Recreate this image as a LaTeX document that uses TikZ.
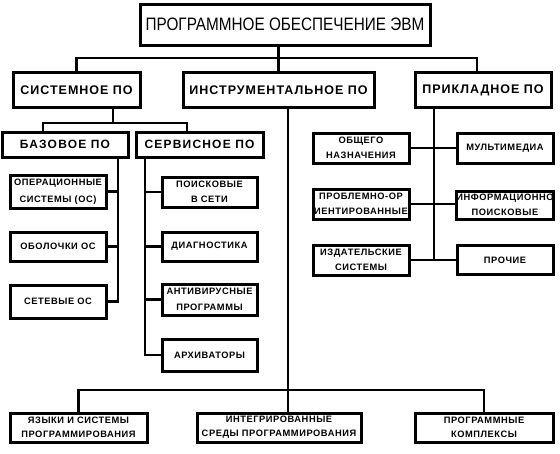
\documentclass[tikz,border=0pt]{standalone}
\usepackage{fontspec}
\setmainfont{Liberation Sans}
\newfontfamily\titlef[FakeStretch=0.85]{Liberation Sans}
\newfontfamily\bigf[LetterSpace=8]{Liberation Sans}
\newfontfamily\midf[LetterSpace=10]{Liberation Sans}
\newfontfamily\smallf[LetterSpace=6]{Liberation Sans}
\tikzset{
  box/.style={draw, line width=3pt, inner sep=0pt, align=center},
  titlebox/.style={box, font=\titlef\fontsize{18}{20}\selectfont},
  lvbox/.style={box, font=\bigf\bfseries\fontsize{12.5}{14}\selectfont},
  l3box/.style={box, font=\midf\bfseries\fontsize{12}{14}\selectfont},
  smbox/.style={box, font=\smallf\bfseries\fontsize{9.3}{15.5}\selectfont},
  lowbox/.style={box, font=\smallf\bfseries\fontsize{9.3}{14}\selectfont},
  conn/.style={line width=2.6pt}
}
\begin{document}
\begin{tikzpicture}[x=1pt, y=-1pt]
\useasboundingbox (0,0) rectangle (560,453);
% title
\node[titlebox, minimum width=290pt, minimum height=41pt] (top) at (285,24.5) {ПРОГРАММНОЕ ОБЕСПЕЧЕНИЕ ЭВМ};
% level 2
\node[lvbox, minimum width=127pt, minimum height=35pt] (sys) at (76.5,90) {СИСТЕМНОЕ ПО};
\node[lvbox, minimum width=191pt, minimum height=35pt] (ins) at (278.5,90) {ИНСТРУМЕНТАЛЬНОЕ ПО};
\node[lvbox, minimum width=136pt, minimum height=35pt] (pri) at (483,90) {ПРИКЛАДНОЕ ПО};
% level 3
\node[l3box, minimum width=126pt, minimum height=25pt] (baz) at (65,144.5) {БАЗОВОЕ ПО};
\node[l3box, minimum width=127pt, minimum height=25pt] (ser) at (199.5,144.5) {СЕРВИСНОЕ ПО};
% base software
\node[smbox, minimum width=96pt, minimum height=33pt] (os) at (58,191.5) {ОПЕРАЦИОННЫЕ\\[2pt]СИСТЕМЫ (ОС)};
\node[smbox, minimum width=96pt, minimum height=29pt] (obo) at (58,246.5) {ОБОЛОЧКИ ОС};
\node[smbox, minimum width=96pt, minimum height=33pt] (set) at (58,301.5) {СЕТЕВЫЕ ОС};
% service software
\node[smbox, minimum width=95pt, minimum height=30pt] (poi) at (209.5,192) {ПОИСКОВЫЕ\\В СЕТИ};
\node[smbox, minimum width=95pt, minimum height=29pt] (dia) at (209.5,246.5) {ДИАГНОСТИКА};
\node[smbox, minimum width=95pt, minimum height=31pt] (ant) at (209.5,299.5) {АНТИВИРУСНЫЕ\\ПРОГРАММЫ};
\node[smbox, minimum width=95pt, minimum height=32pt] (arh) at (209.5,355) {АРХИВАТОРЫ};
% applied software
\node[smbox, minimum width=96pt, minimum height=30pt] (obs) at (361,148) {ОБЩЕГО\\НАЗНАЧЕНИЯ};
\node[smbox, minimum width=96pt, minimum height=30pt] (mul) at (505,148) {МУЛЬТИМЕДИА};
\node[smbox, minimum width=96pt, minimum height=30pt] (pro) at (361,204) {ПРОБЛЕМНО-ОР\\ИЕНТИРОВАННЫЕ};
\node[smbox, minimum width=96pt, minimum height=28pt] (inf) at (505,205) {ИНФОРМАЦИОННО\\ПОИСКОВЫЕ};
\node[smbox, minimum width=96pt, minimum height=30pt] (izd) at (361,260) {ИЗДАТЕЛЬСКИЕ\\СИСТЕМЫ};
\node[smbox, minimum width=96pt, minimum height=29pt] (pch) at (505,260) {ПРОЧИЕ};
% bottom row
\node[lowbox, minimum width=137pt, minimum height=29pt] (yaz) at (78.5,427.5) {ЯЗЫКИ И СИСТЕМЫ\\ПРОГРАММИРОВАНИЯ};
\node[lowbox, minimum width=164pt, minimum height=29pt] (mid) at (279,427.5) {ИНТЕГРИРОВАННЫЕ\\СРЕДЫ ПРОГРАММИРОВАНИЯ};
\node[lowbox, minimum width=138pt, minimum height=29pt] (prg) at (484,427.5) {ПРОГРАММНЫЕ\\КОМПЛЕКСЫ};
% connectors: top level
\coordinate (b1) at (477,58);
\draw[conn] (ins.north) -- (ins.north |- top.south);
\draw[conn] (sys.north) |- (b1) -- (b1 |- pri.north);
% system software split
\coordinate (s1) at (113,123);
\coordinate (s2) at (43,123);
\coordinate (s3) at (187,123);
\draw[conn] (s1 |- sys.south) -- (s1);
\draw[conn] (s2 |- baz.north) -- (s2) -- (s3) -- (s3 |- ser.north);
% base software
\coordinate (bv) at (118,157);
\draw[conn] (bv) |- (set.east);
\draw[conn] (bv |- os.east) -- (os.east);
\draw[conn] (bv |- obo.east) -- (obo.east);
% service software
\coordinate (sv) at (145,157);
\draw[conn] (sv) |- (arh.west);
\draw[conn] (sv |- poi.west) -- (poi.west);
\draw[conn] (sv |- dia.west) -- (dia.west);
\draw[conn] (sv |- ant.west) -- (ant.west);
% instrumental
\coordinate (iv) at (288,107);
\coordinate (bb) at (0,390);
\draw[conn] (iv) -- (iv |- mid.north);
\draw[conn] (yaz.north) |- (bb -| prg.north) -- (prg.north);
% applied
\coordinate (pv) at (434,107);
\draw[conn] (pv) -- (pv |- izd.east);
\draw[conn] (obs.east) -- (mul.west);
\draw[conn] (pro.east) -- (pro.east -| inf.west);
\draw[conn] (izd.east) -- (pch.west);
\end{tikzpicture}
\end{document}
